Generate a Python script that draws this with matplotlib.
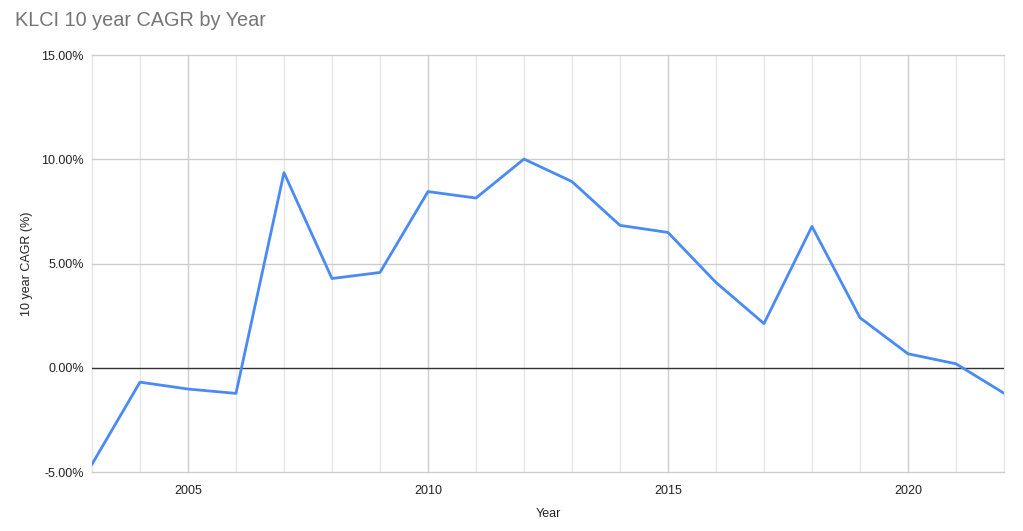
import matplotlib.pyplot as plt
from matplotlib.ticker import FuncFormatter, MultipleLocator

plt.rcParams['font.family'] = ['Liberation Sans', 'DejaVu Sans']

years = list(range(2003, 2023))
cagr = [-4.63, -0.69, -1.02, -1.23, 9.36, 4.28, 4.57, 8.45, 8.14, 10.01,
        8.93, 6.83, 6.49, 4.09, 2.12, 6.78, 2.40, 0.67, 0.19, -1.22]
x_labels = [2005, 2010, 2015, 2020]

fig = plt.figure(figsize=(10.23, 5.31), dpi=100)
ax = fig.add_axes([0.0899, 0.1111, 0.8915, 0.7853])

ax.set_xlim(2003, 2022)
ax.set_ylim(-5, 15)

# vertical grid: every year light, labelled years a bit darker
for yr in years:
    col = '#cccccc' if yr in x_labels else '#e6e6e6'
    ax.axvline(yr, color=col, lw=1, zorder=0, clip_on=False)
for v in [-5, 5, 10, 15]:
    ax.axhline(v, color='#cccccc', lw=1, zorder=0, clip_on=False)
ax.axhline(0, color='#333333', lw=1, zorder=1)

ax.plot(years, cagr, color='#4a8af4', lw=2, zorder=3)

ax.set_xticks(x_labels)
ax.yaxis.set_major_locator(MultipleLocator(5))
ax.yaxis.set_major_formatter(FuncFormatter(lambda v, p: f"{v:.2f}%"))
ax.tick_params(length=0, labelsize=9, colors='#222222')
ax.tick_params(axis='x', pad=9)
ax.tick_params(axis='y', pad=6)
for s in ax.spines.values():
    s.set_visible(False)

ax.set_xlabel('Year', fontsize=9, color='#222222', labelpad=8)
ax.set_ylabel('10 year CAGR (%)', fontsize=9, color='#222222', labelpad=6)

fig.text(0.0147, 0.962, 'KLCI 10 year CAGR by Year', fontsize=14.3,
         color='#757575', va='center', ha='left')

fig.savefig('out.png', dpi=100)
